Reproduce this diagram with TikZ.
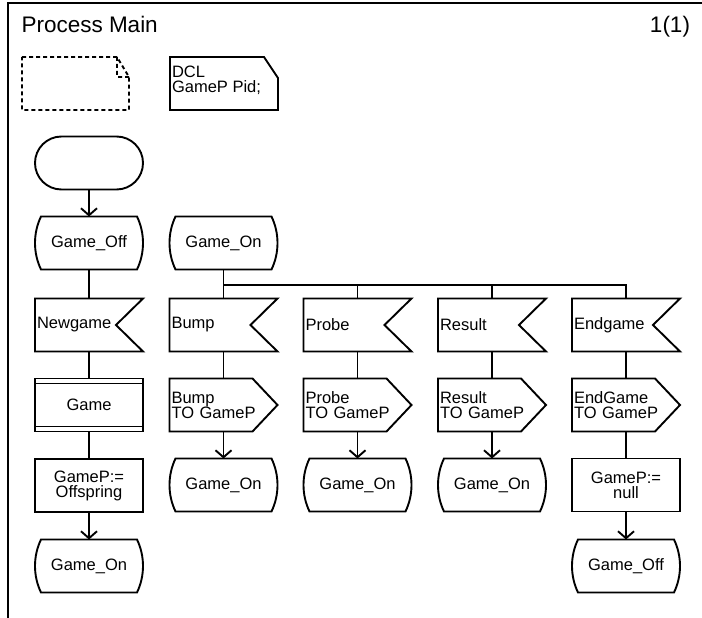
\documentclass[tikz,border=0pt]{standalone}
\usepackage{fontspec}
\setmainfont{Liberation Sans}
\usetikzlibrary{arrows.meta}
\newcommand{\lblfont}{\fontsize{16.5}{15}\selectfont}
\newcommand{\ttlfont}{\fontsize{22.5}{24}\selectfont}
\begin{document}
\begin{tikzpicture}[x=1pt,y=-1pt,
  sdl/.style={line width=1.9pt, line join=miter},
  box/.style={rectangle, inner sep=0pt, outer sep=0pt, minimum width=108pt,
    minimum height=53pt, font=\lblfont, align=center},
  leftbox/.style={box, inner xsep=2pt, text width=104pt, align=left},
  startbox/.style={box, draw, sdl, rounded corners=26.5pt},
  taskbox/.style={box, draw, sdl},
  statebox/.style={box, append after command={\pgfextra{%
      \draw[sdl] ([xshift=6pt]\tikzlastnode.north west)
        -- ([xshift=-6pt]\tikzlastnode.north east)
        .. controls ([xshift=2pt,yshift=-16.8pt]\tikzlastnode.north east)
           and ([xshift=2pt,yshift=16.8pt]\tikzlastnode.south east)
        .. ([xshift=-6pt]\tikzlastnode.south east)
        -- ([xshift=6pt]\tikzlastnode.south west)
        .. controls ([xshift=-2pt,yshift=16.8pt]\tikzlastnode.south west)
           and ([xshift=-2pt,yshift=-16.8pt]\tikzlastnode.north west)
        .. ([xshift=6pt]\tikzlastnode.north west)
        -- cycle;}}},
  inputbox/.style={leftbox, append after command={\pgfextra{%
      \draw[sdl] (\tikzlastnode.north west) -- (\tikzlastnode.north east)
        -- ([xshift=-27pt]\tikzlastnode.east) -- (\tikzlastnode.south east)
        -- (\tikzlastnode.south west) -- cycle;}}},
  outputbox/.style={leftbox, append after command={\pgfextra{%
      \draw[sdl] (\tikzlastnode.north west) -- ([xshift=-25pt]\tikzlastnode.north east)
        -- (\tikzlastnode.east) -- ([xshift=-25pt]\tikzlastnode.south east)
        -- (\tikzlastnode.south west) -- cycle;}}},
  procbox/.style={taskbox, append after command={\pgfextra{%
      \draw[sdl] ([yshift=-5pt]\tikzlastnode.north west) -- ([yshift=-5pt]\tikzlastnode.north east)
        ([yshift=5pt]\tikzlastnode.south west) -- ([yshift=5pt]\tikzlastnode.south east);}}},
  flow/.style={sdl},
  arrowflow/.style={sdl, -{Straight Barb[length=7pt,width=16pt]}},
  textsym/.style={sdl},
  commentsym/.style={sdl, dash pattern=on 4pt off 3pt},
  plain/.style={inner sep=0pt, outer sep=0pt}
]
\useasboundingbox (0,0) rectangle (702,618);

% page frame and heading
\draw[sdl, line width=2pt] (702,3) -- (8,3) -- (8,618);
\node[plain, font=\ttlfont, anchor=base west] (title) at (21.5,33) {Process Main};
\node[plain, font=\ttlfont, anchor=base east] (page) at (690,33) {1(1)};

% empty comment symbol (dashed) and declaration text symbol
\draw[commentsym] (22,57) -- (117,57) -- (129,77) -- (129,110) -- (22,110) -- cycle
  (117,57) -- (117,77) -- (129,77);
\draw[textsym] (170,57) -- (264,57) -- (278,78) -- (278,110) -- (170,110) -- cycle;
\node[plain, font=\lblfont, align=left, anchor=north west] (dcl) at (172,66) {DCL\\GameP Pid;};

% start transition
\node[startbox] (start) at (89,163) {};
\node[statebox] (off1) at (89,243) {Game\_Off};
\node[inputbox] (newgame) at (89,325) {Newgame};
\node[procbox] (game) at (89,405) {Game};
\node[taskbox] (spawn) at (89,485.5) {GameP:=\\Offspring};
\node[statebox] (on1) at (89,566) {Game\_On};

% state Game_On with its four inputs
\node[statebox] (on0) at (223.5,243) {Game\_On};
\coordinate (fork) at (223.5,285);

\node[inputbox] (bump) at (223.5,325) {Bump};
\node[outputbox] (sbump) at (223.5,405) {Bump\\TO GameP};
\node[statebox] (on2) at (223.5,485) {Game\_On};

\node[inputbox] (probe) at (357.5,325) {Probe};
\node[outputbox] (sprobe) at (357.5,405) {Probe\\TO GameP};
\node[statebox] (on3) at (357.5,485) {Game\_On};

\node[inputbox] (result) at (492,325) {Result};
\node[outputbox] (sresult) at (492,405) {Result\\TO GameP};
\node[statebox] (on4) at (492,485) {Game\_On};

\node[inputbox] (endgame) at (626,325) {Endgame};
\node[outputbox] (send) at (626,405) {EndGame\\TO GameP};
\node[taskbox] (clear) at (626,485) {GameP:=\\null};
\node[statebox] (off2) at (626,566) {Game\_Off};

% flow lines
\draw[arrowflow] (start.south) -- (off1.north);
\draw[flow] (off1.south) -- (newgame.north);
\draw[flow] (newgame.south) -- (game.north);
\draw[flow] (game.south) -- (spawn.north);
\draw[arrowflow] (spawn.south) -- (on1.north);

\draw[flow] (on0.south) -- (bump.north);
\draw[flow] (fork) -| (probe.north);
\draw[flow] (fork) -| (result.north);
\draw[flow] (fork) -| (endgame.north);

\draw[flow] (bump.south) -- (sbump.north);
\draw[arrowflow] (sbump.south) -- (on2.north);
\draw[flow] (probe.south) -- (sprobe.north);
\draw[arrowflow] (sprobe.south) -- (on3.north);
\draw[flow] (result.south) -- (sresult.north);
\draw[arrowflow] (sresult.south) -- (on4.north);
\draw[flow] (endgame.south) -- (send.north);
\draw[flow] (send.south) -- (clear.north);
\draw[arrowflow] (clear.south) -- (off2.north);
\end{tikzpicture}
\end{document}
